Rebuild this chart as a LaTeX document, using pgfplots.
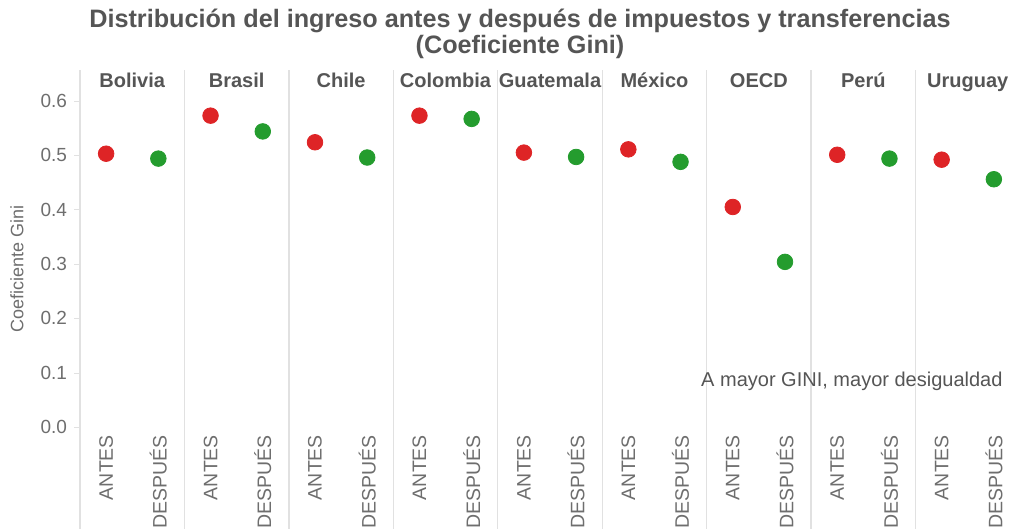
\documentclass[border=0pt]{standalone}
\usepackage{pgfplots}
\pgfplotsset{compat=1.18}
\usepackage{fontspec}
\setmainfont{Liberation Sans}
\definecolor{rojo}{RGB}{222,36,38}
\definecolor{verde}{RGB}{36,156,46}
\definecolor{txt}{RGB}{85,85,85}
\definecolor{tick}{RGB}{110,110,110}
\definecolor{sep}{RGB}{225,225,225}

\begin{document}
\begin{tikzpicture}
\useasboundingbox (0,0) rectangle (509.5pt,264.5pt);
% title
\node[font=\fontsize{12.6}{14}\selectfont\bfseries, text=txt] at (260pt,254pt)
  {Distribución del ingreso antes y después de impuestos y transferencias};
\node[font=\fontsize{12.6}{14}\selectfont\bfseries, text=txt] at (260pt,241pt)
  {(Coeficiente Gini)};
% y label
\node[rotate=90, font=\fontsize{9}{10}\selectfont, text=tick] at (8.5pt,130pt) {Coeficiente Gini};

\begin{axis}[
  at={(40pt,45.5pt)}, anchor=south west,
  width=470pt, height=184pt, scale only axis,
  xmin=-0.5, xmax=17.5, ymin=-0.02, ymax=0.657,
  clip=false,
  axis line style={draw=none},
  xtick={0,...,17},
  xticklabels={ANTES,DESPUÉS,ANTES,DESPUÉS,ANTES,DESPUÉS,ANTES,DESPUÉS,ANTES,DESPUÉS,
               ANTES,DESPUÉS,ANTES,DESPUÉS,ANTES,DESPUÉS,ANTES,DESPUÉS},
  x tick label style={rotate=90, anchor=east, xshift=8pt, font=\fontsize{9.75}{10}\selectfont, text=tick},
  x tick style={draw=none},
  ytick={0,0.1,0.2,0.3,0.4,0.5,0.6},
  y tick label style={font=\fontsize{9.5}{10}\selectfont, text=tick},
  yticklabel style={/pgf/number format/.cd, fixed, fixed zerofill, precision=1, assume math mode=true},
  y tick style={draw=sep},
  tick align=outside,
  major tick length=3pt,
]
% panel separators
\pgfplotsinvokeforeach{-0.5,1.5,3.5,5.5,7.5,9.5,11.5,13.5,15.5}{
  \draw[sep, line width=0.7pt] (axis cs:#1,0.657) -- ([yshift=-45.5pt]axis cs:#1,-0.02);
}
% country labels
\tikzset{pais/.style={anchor=base, font=\fontsize{10}{11}\selectfont\bfseries, text=txt}}
\node[pais] at (axis cs:0.5,0.624) {Bolivia};
\node[pais] at (axis cs:2.5,0.624) {Brasil};
\node[pais] at (axis cs:4.5,0.624) {Chile};
\node[pais] at (axis cs:6.5,0.624) {Colombia};
\node[pais] at (axis cs:8.5,0.624) {Guatemala};
\node[pais] at (axis cs:10.5,0.624) {México};
\node[pais] at (axis cs:12.5,0.624) {OECD};
\node[pais] at (axis cs:14.5,0.624) {Perú};
\node[pais] at (axis cs:16.5,0.624) {Uruguay};
\node[anchor=east, font=\fontsize{10}{11}\selectfont, text=txt] at (axis cs:17.3,0.085)
  {A mayor GINI, mayor desigualdad};

% ANTES
\addplot[only marks, mark=*, mark size=3.9pt, color=rojo] coordinates {
  (0,0.503) (2,0.573) (4,0.524) (6,0.573) (8,0.505) (10,0.511) (12,0.405) (14,0.501) (16,0.492)
};
% DESPUES
\addplot[only marks, mark=*, mark size=3.9pt, color=verde] coordinates {
  (1,0.494) (3,0.544) (5,0.496) (7,0.567) (9,0.497) (11,0.488) (13,0.304) (15,0.494) (17,0.456)
};
\end{axis}
\end{tikzpicture}
\end{document}
